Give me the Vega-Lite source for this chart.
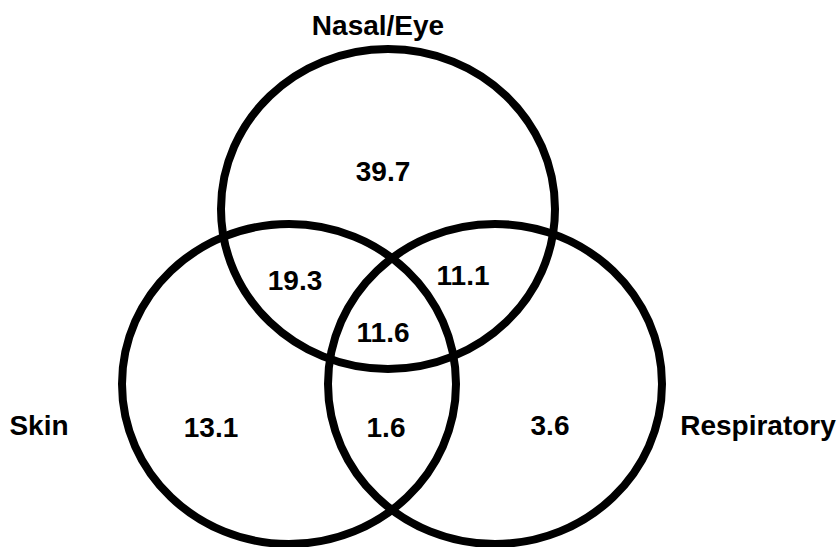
{
  "$schema": "https://vega.github.io/schema/vega-lite/v6.json",
  "autosize": {"type": "none"},
  "width": 840,
  "height": 547,
  "padding": 0,
  "background": "white",
  "config": {"view": {"stroke": null}},
  "datasets": {
    "circles": [
      {"set": "Nasal/Eye", "cx": 388, "cy": 209},
      {"set": "Skin", "cx": 289, "cy": 384},
      {"set": "Respiratory", "cx": 495, "cy": 384}
    ],
    "labels": [
      {"label": "Nasal/Eye", "x": 378, "y": 35},
      {"label": "Skin", "x": 39, "y": 435},
      {"label": "Respiratory", "x": 758, "y": 435},
      {"label": "39.7", "x": 383, "y": 181},
      {"label": "19.3", "x": 295, "y": 290},
      {"label": "11.1", "x": 463, "y": 285},
      {"label": "11.6", "x": 383, "y": 342},
      {"label": "13.1", "x": 211, "y": 437},
      {"label": "1.6", "x": 386, "y": 437},
      {"label": "3.6", "x": 550, "y": 435}
    ]
  },
  "layer": [
    {
      "data": {"name": "circles"},
      "mark": {
        "type": "point",
        "shape": "M 1 0 C 1 0.5291 0.5523 0.958 0 0.958 C -0.5523 0.958 -1 0.5291 -1 0 C -1 -0.5291 -0.5523 -0.958 0 -0.958 C 0.5523 -0.958 1 -0.5291 1 0 Z",
        "filled": false,
        "stroke": "black",
        "strokeWidth": 8,
        "opacity": 1,
        "size": 111556
      },
      "encoding": {
        "x": {"field": "cx", "type": "quantitative", "scale": {"domain": [0, 840], "nice": false, "zero": false}, "axis": null},
        "y": {"field": "cy", "type": "quantitative", "scale": {"domain": [0, 547], "nice": false, "zero": false, "reverse": true}, "axis": null}
      }
    },
    {
      "data": {"name": "labels"},
      "mark": {
        "type": "text",
        "font": "Liberation Sans",
        "fontWeight": "bold",
        "fontSize": 28,
        "align": "center",
        "baseline": "alphabetic",
        "color": "black"
      },
      "encoding": {
        "x": {"field": "x", "type": "quantitative", "scale": {"domain": [0, 840], "nice": false, "zero": false}, "axis": null},
        "y": {"field": "y", "type": "quantitative", "scale": {"domain": [0, 547], "nice": false, "zero": false, "reverse": true}, "axis": null},
        "text": {"field": "label"}
      }
    }
  ]
}
